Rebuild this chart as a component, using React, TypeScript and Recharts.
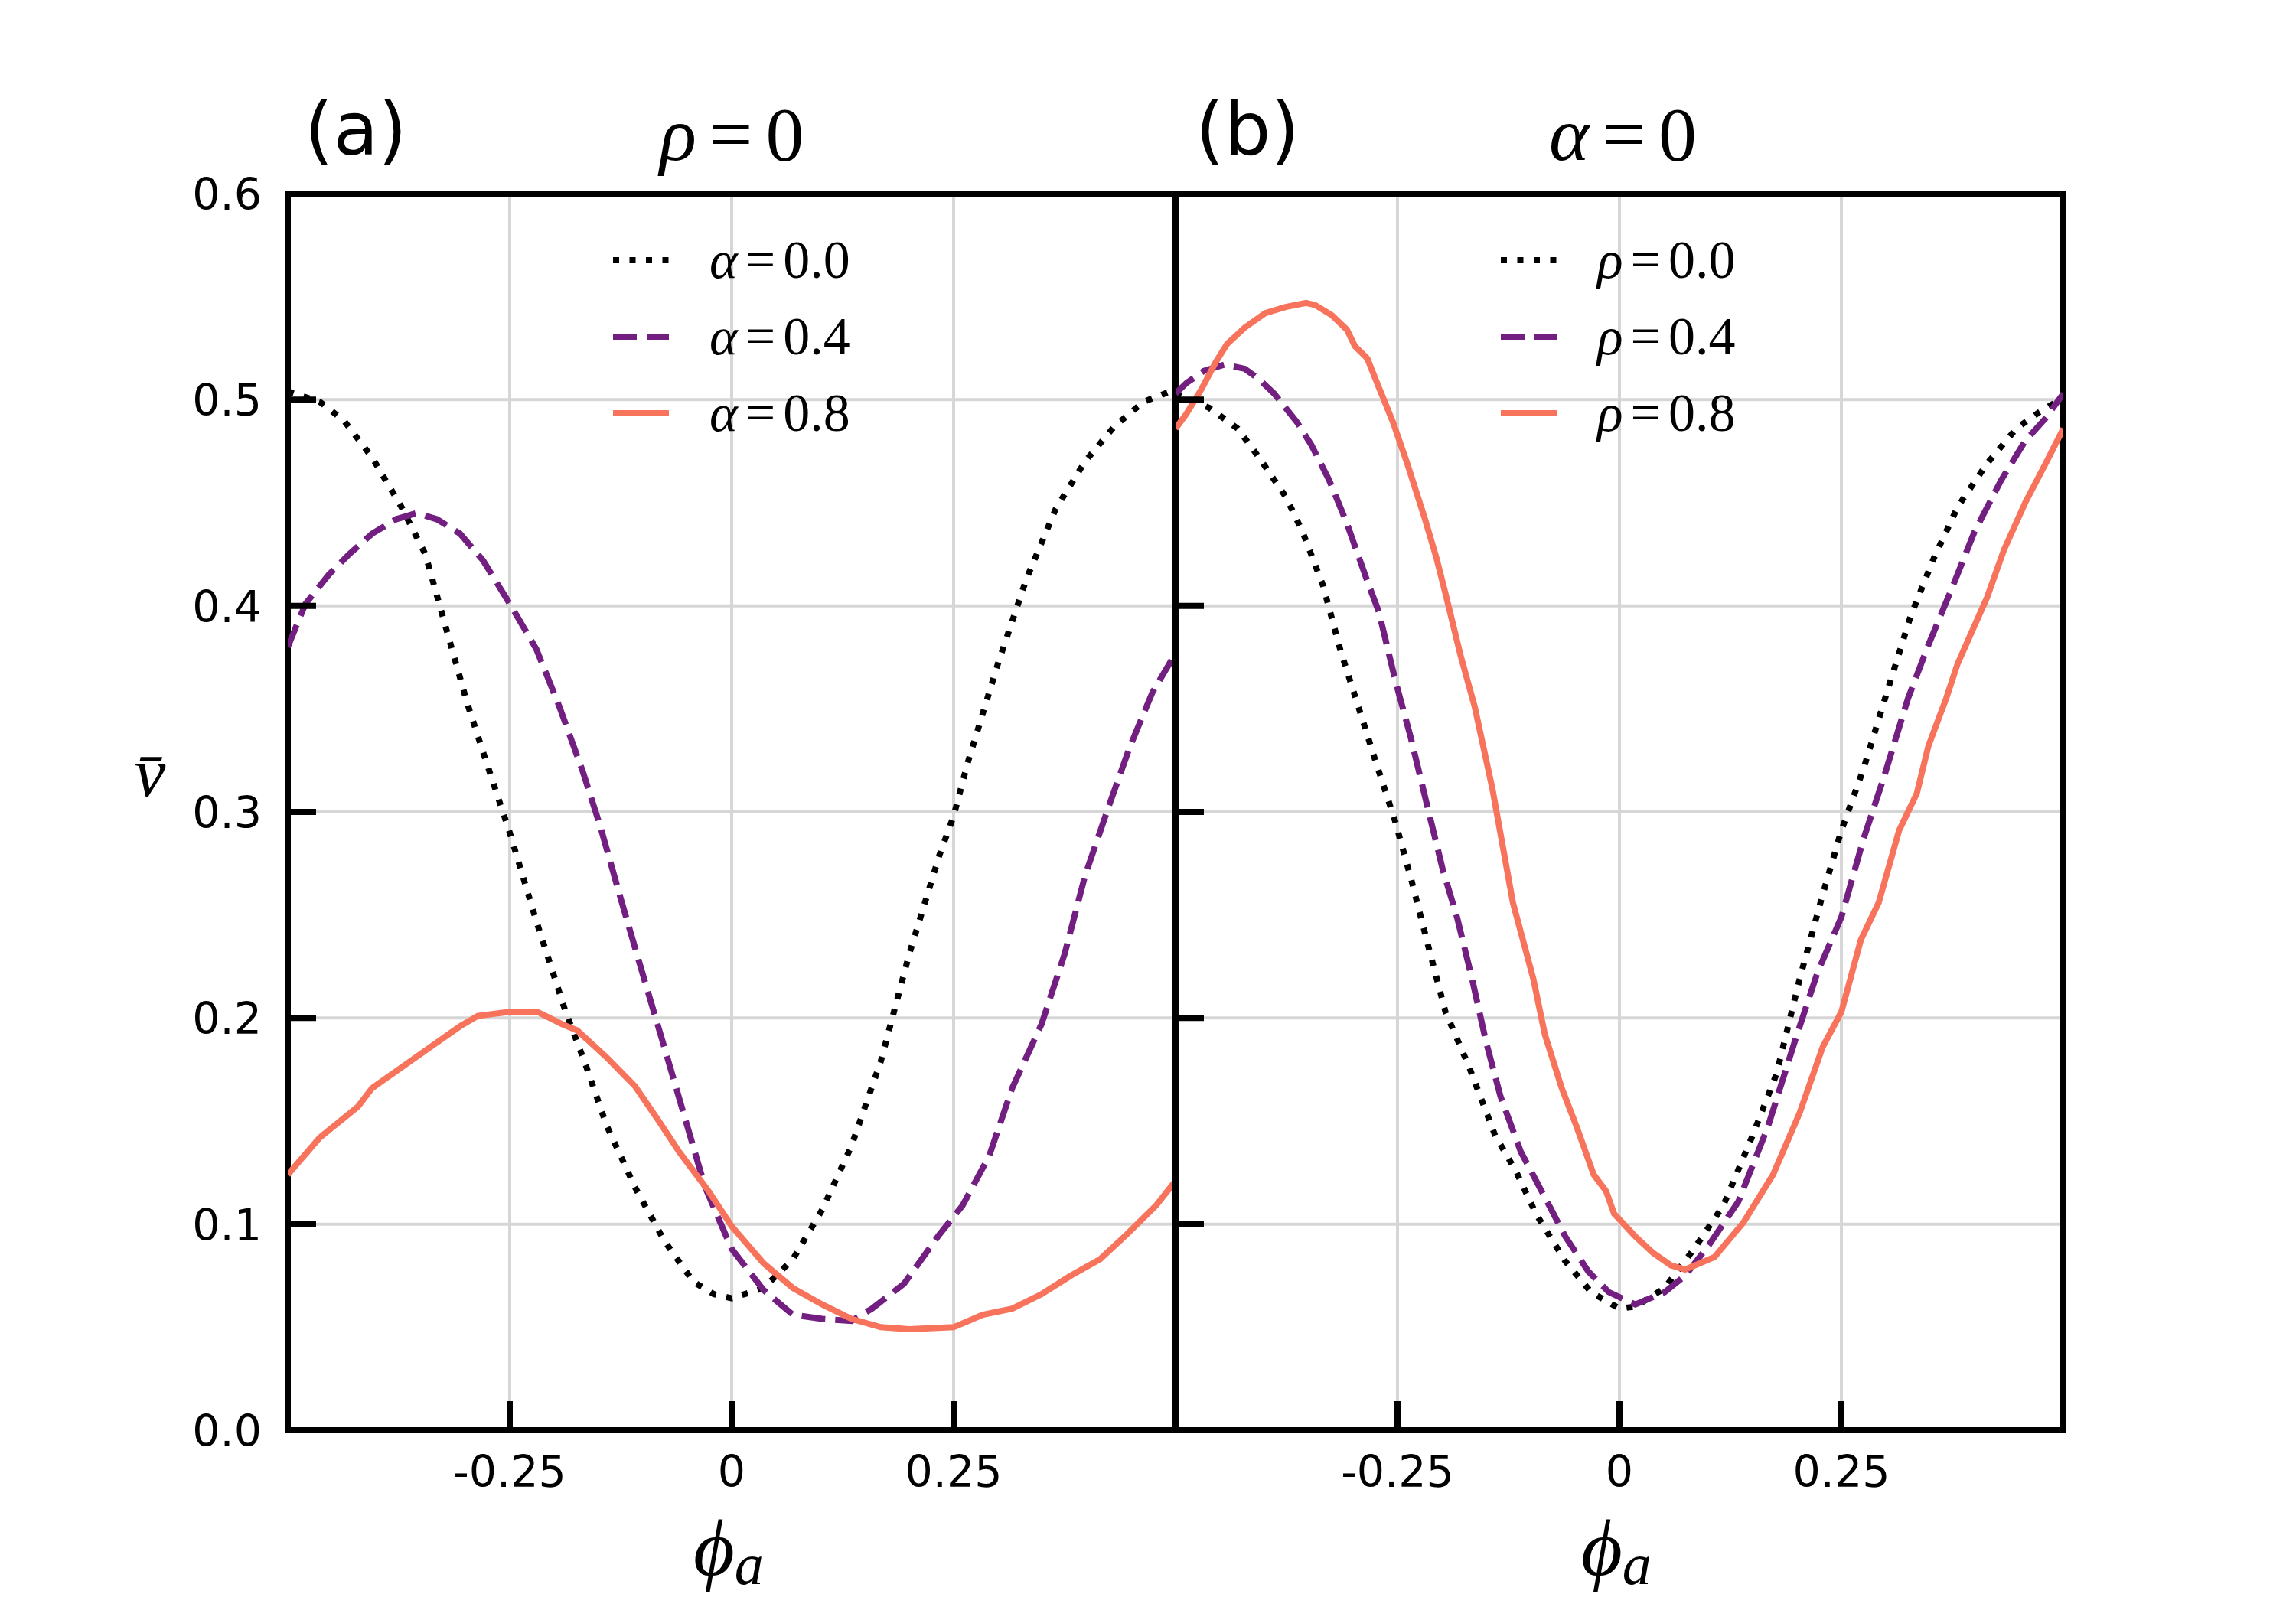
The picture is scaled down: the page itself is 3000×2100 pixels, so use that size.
import React from 'react';
import { LineChart, Line, XAxis, YAxis, CartesianGrid, ReferenceArea } from 'recharts';

// panel (a): rho = 0, curves for alpha
const phiA0 = [-0.5, -0.464, -0.437, -0.405, -0.372, -0.345, -0.319, -0.298, -0.28, -0.25, -0.22, -0.187, -0.165, -0.141, -0.109, -0.076, -0.043, -0.02, 0, 0.036, 0.069, 0.102, 0.135, 0.168, 0.2, 0.234, 0.25, 0.266, 0.3, 0.332, 0.365, 0.398, 0.431, 0.464, 0.5];
const vA0 = [0.504, 0.499, 0.49, 0.472, 0.448, 0.425, 0.385, 0.353, 0.329, 0.29, 0.247, 0.203, 0.178, 0.148, 0.118, 0.092, 0.072, 0.066, 0.064, 0.069, 0.083, 0.107, 0.138, 0.179, 0.231, 0.279, 0.298, 0.324, 0.372, 0.413, 0.447, 0.47, 0.487, 0.499, 0.505];

const phiA4 = [-0.5, -0.48, -0.454, -0.431, -0.405, -0.378, -0.355, -0.332, -0.306, -0.28, -0.25, -0.22, -0.194, -0.168, -0.148, -0.125, -0.102, -0.076, -0.053, -0.03, 0, 0.036, 0.069, 0.102, 0.135, 0.158, 0.194, 0.234, 0.26, 0.29, 0.316, 0.349, 0.375, 0.398, 0.425, 0.448, 0.474, 0.5];
const vA4 = [0.38, 0.401, 0.415, 0.425, 0.435, 0.442, 0.445, 0.442, 0.435, 0.422, 0.401, 0.379, 0.351, 0.32, 0.293, 0.258, 0.224, 0.186, 0.152, 0.118, 0.088, 0.068, 0.056, 0.054, 0.053, 0.059, 0.071, 0.095, 0.109, 0.133, 0.166, 0.197, 0.231, 0.269, 0.303, 0.331, 0.358, 0.377];

const phiA8 = [-0.5, -0.464, -0.421, -0.405, -0.372, -0.339, -0.306, -0.286, -0.25, -0.219, -0.191, -0.174, -0.141, -0.109, -0.082, -0.059, -0.026, 0, 0.036, 0.069, 0.102, 0.135, 0.168, 0.2, 0.25, 0.283, 0.316, 0.349, 0.382, 0.415, 0.445, 0.478, 0.5];
const vA8 = [0.124, 0.142, 0.157, 0.166, 0.176, 0.186, 0.196, 0.201, 0.203, 0.203, 0.197, 0.194, 0.181, 0.167, 0.15, 0.135, 0.116, 0.099, 0.081, 0.069, 0.061, 0.054, 0.05, 0.049, 0.05, 0.056, 0.059, 0.066, 0.075, 0.083, 0.095, 0.109, 0.121];

// panel (b): alpha = 0, curves for rho
const phiB0 = [-0.5, -0.488, -0.462, -0.43, -0.406, -0.376, -0.357, -0.334, -0.314, -0.294, -0.275, -0.253, -0.235, -0.216, -0.196, -0.17, -0.14, -0.117, -0.094, -0.061, -0.032, 0, 0.018, 0.051, 0.084, 0.117, 0.15, 0.177, 0.203, 0.229, 0.25, 0.275, 0.302, 0.328, 0.354, 0.381, 0.414, 0.447, 0.473, 0.5];
const vB0 = [0.503, 0.501, 0.496, 0.486, 0.472, 0.453, 0.436, 0.41, 0.378, 0.351, 0.325, 0.296, 0.268, 0.236, 0.203, 0.177, 0.143, 0.126, 0.105, 0.082, 0.067, 0.059, 0.06, 0.069, 0.088, 0.109, 0.143, 0.173, 0.219, 0.26, 0.291, 0.321, 0.359, 0.395, 0.423, 0.448, 0.469, 0.486, 0.494, 0.501];

const phiB4 = [-0.5, -0.488, -0.468, -0.445, -0.422, -0.406, -0.389, -0.363, -0.347, -0.327, -0.307, -0.284, -0.271, -0.252, -0.235, -0.216, -0.199, -0.183, -0.166, -0.15, -0.134, -0.111, -0.084, -0.061, -0.035, -0.012, 0.018, 0.051, 0.074, 0.101, 0.134, 0.167, 0.2, 0.223, 0.25, 0.275, 0.298, 0.325, 0.348, 0.374, 0.4, 0.43, 0.457, 0.48, 0.5];
const vB4 = [0.503, 0.508, 0.514, 0.517, 0.515, 0.51, 0.503, 0.489, 0.478, 0.461, 0.44, 0.412, 0.397, 0.363, 0.336, 0.302, 0.272, 0.249, 0.219, 0.188, 0.162, 0.135, 0.113, 0.094, 0.077, 0.067, 0.061, 0.067, 0.075, 0.09, 0.111, 0.147, 0.192, 0.222, 0.249, 0.287, 0.317, 0.355, 0.381, 0.408, 0.436, 0.461, 0.48, 0.491, 0.503];

const phiB8 = [-0.5, -0.488, -0.471, -0.455, -0.442, -0.422, -0.399, -0.376, -0.353, -0.343, -0.324, -0.307, -0.298, -0.284, -0.271, -0.255, -0.239, -0.219, -0.206, -0.196, -0.179, -0.163, -0.143, -0.12, -0.097, -0.084, -0.065, -0.048, -0.029, -0.015, -0.006, 0.018, 0.038, 0.058, 0.074, 0.107, 0.14, 0.173, 0.203, 0.229, 0.25, 0.272, 0.292, 0.315, 0.335, 0.348, 0.368, 0.381, 0.414, 0.433, 0.457, 0.48, 0.5];
const vB8 = [0.486, 0.493, 0.505, 0.518, 0.527, 0.535, 0.542, 0.545, 0.547, 0.546, 0.541, 0.534, 0.526, 0.52, 0.506, 0.489, 0.469, 0.442, 0.423, 0.406, 0.376, 0.351, 0.311, 0.256, 0.219, 0.192, 0.166, 0.147, 0.124, 0.116, 0.105, 0.094, 0.086, 0.08, 0.078, 0.084, 0.101, 0.124, 0.154, 0.186, 0.203, 0.238, 0.256, 0.291, 0.309, 0.332, 0.355, 0.372, 0.404, 0.427, 0.45, 0.469, 0.486];

const xTicks = [-0.25, 0, 0.25];
const yTicks = [0, 0.1, 0.2, 0.3, 0.4, 0.5, 0.6];
const legendValues = ['0.0', '0.4', '0.8'];

const BLACK = '#000000';
const PURPLE = '#721F81';
const CORAL = '#F7735C';
const LW = 8;
const DOTTED = '8 13.5';
const DASHED = '31 13';

const styles = [
  { color: BLACK, dash: DOTTED },
  { color: PURPLE, dash: DASHED },
  { color: CORAL, dash: undefined },
];

const toPoints = (phi: number[], v: number[]) => phi.map((p, i) => ({ phi: p, v: v[i] }));

const panelA = [toPoints(phiA0, vA0), toPoints(phiA4, vA4), toPoints(phiA8, vA8)];
const panelB = [toPoints(phiB0, vB0), toPoints(phiB4, vB4), toPoints(phiB8, vB8)];

const TICK_FONT = 'DejaVu Sans';
const MATH_FONT = 'Liberation Serif';

const XTick = (props: any) => {
  const { x, y, payload } = props;
  const label = payload.value === 0 ? '0' : String(payload.value);
  return (
    <g>
      <line x1={x} x2={x} y1={y} y2={y - 38} stroke="#000" strokeWidth={8} />
      <text x={x} y={y + 74} textAnchor="middle" fontFamily={TICK_FONT} fontSize={57} fill="#000">
        {label}
      </text>
    </g>
  );
};

const makeYTick = (showLabel: boolean) => (props: any) => {
  const { x, y, payload } = props;
  return (
    <g>
      <line x1={x} x2={x + 37} y1={y} y2={y} stroke="#000" strokeWidth={8} />
      {showLabel && (
        <text x={x - 34} y={y + 21} textAnchor="end" fontFamily={TICK_FONT} fontSize={57} fill="#000">
          {payload.value.toFixed(1)}
        </text>
      )}
    </g>
  );
};

const Panel = ({ series, yLabels, yAxisWidth, rightMargin }: any) => (
  <LineChart
    width={1600}
    height={2100}
    margin={{ top: 253, right: rightMargin, bottom: 0, left: 0 }}
  >
    <CartesianGrid stroke="#d6d6d6" strokeWidth={4} />
    <XAxis
      dataKey="phi"
      type="number"
      domain={[-0.5, 0.5]}
      ticks={xTicks}
      interval={0}
      allowDataOverflow
      height={231}
      axisLine={false}
      tickLine={false}
      tickSize={0}
      tickMargin={0}
      tick={<XTick />}
    />
    <YAxis
      type="number"
      domain={[0, 0.6]}
      ticks={yTicks}
      interval={0}
      allowDataOverflow
      width={yAxisWidth}
      axisLine={false}
      tickLine={false}
      tickSize={0}
      tickMargin={0}
      tick={makeYTick(yLabels)}
    />
    {series.map((data: any, i: number) => (
      <Line
        key={i}
        data={data}
        dataKey="v"
        type="linear"
        stroke={styles[i].color}
        strokeWidth={LW}
        strokeDasharray={styles[i].dash}
        dot={false}
        activeDot={false}
        isAnimationActive={false}
      />
    ))}
    <ReferenceArea
      x1={-0.5}
      x2={0.5}
      y1={0}
      y2={0.6}
      fill="none"
      fillOpacity={0}
      stroke="#000"
      strokeWidth={8}
      ifOverflow="visible"
    />
  </LineChart>
);

const LegendBlock = ({ x, symbol }: { x: number; symbol: string }) => (
  <g>
    {legendValues.map((val, i) => {
      const cy = 340 + i * 100;
      return (
        <g key={val}>
          <line
            x1={x}
            x2={x + 73}
            y1={cy}
            y2={cy}
            stroke={styles[i].color}
            strokeWidth={LW}
            strokeDasharray={styles[i].dash}
          />
          <text x={x + 126} y={cy + 23} fontFamily={MATH_FONT} fontSize={70} fill="#000">
            <tspan fontStyle="italic">{symbol}</tspan>
            <tspan dx={10}>=</tspan>
            <tspan dx={10}>{val}</tspan>
          </text>
        </g>
      );
    })}
  </g>
);

const Overlay = () => (
  <svg
    width={3000}
    height={2100}
    style={{ position: 'absolute', left: 0, top: 0, pointerEvents: 'none' }}
  >
    {/* panel letters and titles */}
    <text x={398} y={202} fontFamily={TICK_FONT} fontSize={96} fill="#000">(a)</text>
    <text x={862} y={209} fontFamily={MATH_FONT} fontSize={100} fill="#000">
      <tspan fontStyle="italic">ρ</tspan>
      <tspan dx={17}>=</tspan>
      <tspan dx={17}>0</tspan>
    </text>
    <text x={1562} y={202} fontFamily={TICK_FONT} fontSize={96} fill="#000">(b)</text>
    <text x={2024} y={209} fontFamily={MATH_FONT} fontSize={100} fill="#000">
      <tspan fontStyle="italic">α</tspan>
      <tspan dx={17}>=</tspan>
      <tspan dx={17}>0</tspan>
    </text>

    {/* axis labels */}
    <text x={196} y={1040} textAnchor="middle" fontFamily={MATH_FONT} fontStyle="italic" fontSize={92} fill="#000">
      {'v\u0304'}
    </text>
    {[906, 2066].map((lx) => (
      <text key={lx} x={lx} y={2058} fontFamily={MATH_FONT} fontStyle="italic" fontSize={104} fill="#000">
        {'\u03D5'}
        <tspan fontSize={76} dy={12}>a</tspan>
      </text>
    ))}

    <LegendBlock x={801} symbol="α" />
    <LegendBlock x={1961} symbol="ρ" />
  </svg>
);

export default function App() {
  return (
    <div style={{ position: 'relative', width: 3000, height: 2100, background: '#fff', overflow: 'hidden' }}>
      <style>{'body{margin:0;}'}</style>
      <div style={{ position: 'absolute', left: 0, top: 0 }}>
        <Panel series={panelA} yLabels yAxisWidth={376} rightMargin={64} />
      </div>
      <div style={{ position: 'absolute', left: 1400, top: 0 }}>
        <Panel series={panelB} yLabels={false} yAxisWidth={136} rightMargin={304} />
      </div>
      <Overlay />
    </div>
  );
}
